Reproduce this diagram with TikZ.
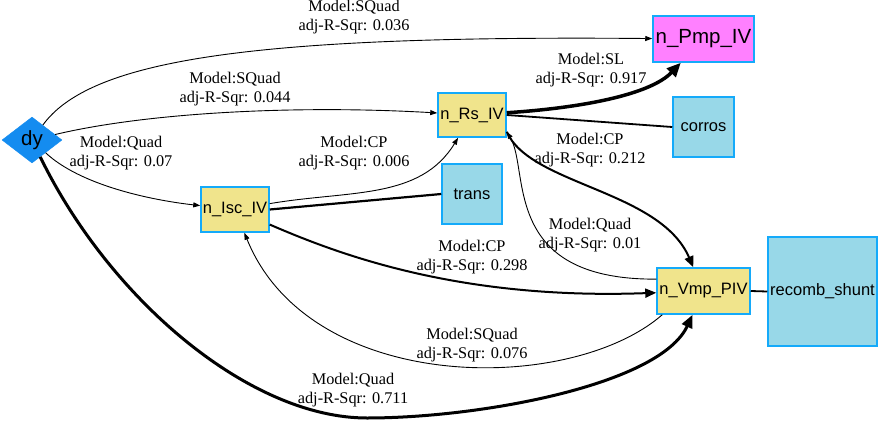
\documentclass[tikz,border=0pt]{standalone}
\usepackage{fontspec}
\setmainfont{Liberation Serif}
\newfontfamily\nodefont{Liberation Sans}
\usetikzlibrary{shapes.geometric,arrows.meta,calc}
\definecolor{bordercol}{RGB}{20,170,250}
\definecolor{yellowfill}{RGB}{240,228,140}
\definecolor{bluefill}{RGB}{152,216,232}
\definecolor{magfill}{RGB}{255,128,255}
\definecolor{dycol}{RGB}{20,140,240}
\begin{document}
\begin{tikzpicture}[x=1pt,y=-1pt,
  box/.style={draw=bordercol, line width=1.5pt, inner sep=0pt, text=black,
    font=\nodefont\fontsize{16.5}{18}\selectfont},
  ybox/.style={box, fill=yellowfill},
  bbox/.style={box, fill=bluefill},
  lbl/.style={align=center, inner sep=0pt, font=\fontsize{16.3}{19.5}\selectfont},
  thinedge/.style={line width=0.9pt, -{Triangle[length=7pt,width=5pt]}},
  midedge/.style={line width=2pt, -{Triangle[length=11pt,width=9pt]}},
  bigedge/.style={line width=3pt, -{Triangle[length=13pt,width=11pt]}},
  hugeedge/.style={line width=3.5pt, -{Triangle[length=14pt,width=12pt]}},
  plain/.style={line width=1.8pt}
]
\useasboundingbox (0,0) rectangle (879,421);

% nodes
\node[diamond, fill=dycol, draw=dycol, inner sep=0pt, minimum width=60pt, minimum height=46pt,
  font=\nodefont\fontsize{20.5}{22}\selectfont] (dy) at (32,140) {dy};
\node[box, fill=magfill, minimum width=101pt, minimum height=46pt,
  font=\nodefont\fontsize{20.5}{22}\selectfont] (Pmp) at (703.5,39) {n\_Pmp\_IV};
\node[ybox, minimum width=68pt, minimum height=44pt] (Rs) at (472,115) {n\_Rs\_IV};
\node[bbox, minimum width=61pt, minimum height=60pt] (corros) at (703.5,127) {corros};
\node[bbox, minimum width=60pt, minimum height=60pt] (trans) at (472,194) {trans};
\node[ybox, minimum width=68pt, minimum height=45pt] (Isc) at (235,209.5) {n\_Isc\_IV};
\node[ybox, minimum width=93pt, minimum height=46pt] (Vmp) at (703.5,291) {n\_Vmp\_PIV};
\node[bbox, minimum width=109pt, minimum height=109pt] (recomb) at (822.5,291.5) {recomb\_shunt};

% helper coordinates
\coordinate (rsport) at ([yshift=6pt]Rs.south east);
\coordinate (vmpport) at ($(Vmp.north west)!0.25!(Vmp.south west)$);
\coordinate (vmplow) at ([xshift=6pt]Vmp.south west);
\coordinate (low) at (367,418);

% edges
\draw[thinedge] (dy) .. controls (90,60) and (250,35) .. (Pmp);
\draw[thinedge] (dy) .. controls (150,112) and (300,105) .. (Rs);
\draw[thinedge] (dy) .. controls (80,185) and (150,200) .. (Isc);
\draw[thinedge] (Isc) .. controls (350,190) and (420,200) .. (Rs);
\draw[hugeedge] (Rs) .. controls (580,108) and (650,95) .. (Pmp);
\draw[plain] (Rs.east) -- (corros.west);
\draw[line width=2.2pt] (Isc.east) -- (trans.west);
\draw[midedge] (rsport) .. controls (530,185) and (660,190) .. (Vmp);
\draw[thinedge] (vmpport) .. controls (500,280) and (530,170) .. (rsport);
\draw[midedge] (Isc) .. controls (340,255) and (460,300) .. (Vmp);
\draw[thinedge] (vmplow) .. controls (570,395) and (310,395) .. (Isc);
\draw[bigedge] (dy) .. controls (110,300) and (250,418) .. (low)
   .. controls (480,418) and (660,385) .. (Vmp);
\draw[plain] (Vmp.east) -- (recomb.west);

% labels
\node[lbl] (l036) at (354,17) {Model:SQuad\\adj-R-Sqr: 0.036};
\node[lbl] (l044) at (235,89) {Model:SQuad\\adj-R-Sqr: 0.044};
\node[lbl] (l07) at (121,153) {Model:Quad\\adj-R-Sqr: 0.07};
\node[lbl] (l006) at (354,153) {Model:CP\\adj-R-Sqr: 0.006};
\node[lbl] (l917) at (591,70) {Model:SL\\adj-R-Sqr: 0.917};
\node[lbl] (l212) at (590,150) {Model:CP\\adj-R-Sqr: 0.212};
\node[lbl] (l01) at (590,235) {Model:Quad\\adj-R-Sqr: 0.01};
\node[lbl] (l298) at (472,257) {Model:CP\\adj-R-Sqr: 0.298};
\node[lbl] (l076) at (472,345) {Model:SQuad\\adj-R-Sqr: 0.076};
\node[lbl] (l711) at (353,390) {Model:Quad\\adj-R-Sqr: 0.711};
\end{tikzpicture}
\end{document}
